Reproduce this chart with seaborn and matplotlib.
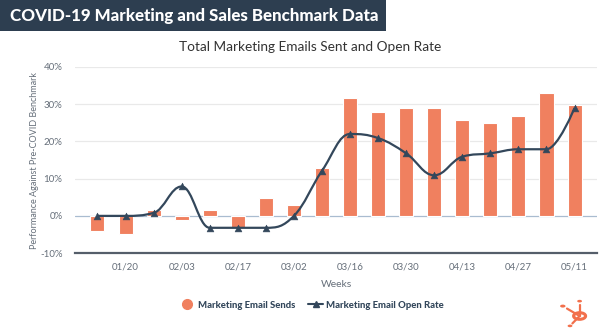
import numpy as np
import pandas as pd
import matplotlib
matplotlib.use("Agg")
import matplotlib.pyplot as plt
from matplotlib import font_manager
from matplotlib.path import Path
from matplotlib.patches import PathPatch, Rectangle, Circle
from matplotlib.lines import Line2D
import seaborn as sns

weeks = ["01/13", "01/20", "01/27", "02/03", "02/10", "02/17", "02/24", "03/02", "03/09",
         "03/16", "03/23", "03/30", "04/06", "04/13", "04/20", "04/27", "05/04", "05/11"]
email_sends = [-4.1, -5.0, 1.6, -1.2, 1.6, -3.2, 4.8, 2.8, 12.9,
               31.8, 28.0, 28.9, 28.9, 25.8, 24.9, 26.8, 32.9, 29.9]
open_rate = [0.0, 0.0, 0.8, 7.9, -3.2, -3.2, -3.2, 0.0, 12.1,
             22.0, 20.9, 16.8, 10.9, 15.9, 16.8, 17.9, 17.9, 29.0]
y_ticks = [-10, 0, 10, 20, 30, 40]

BAR = "#f0805f"
LINE = "#33475b"
GREY = "#666f7a"

sns.set_theme(style="white")
plt.rcParams["font.family"] = ["Lato", "DejaVu Sans"]

# pick a family that really has a bold face installed
def bold_family():
    prefs = ["Lato", "Open Sans", "Roboto", "Noto Sans", "Liberation Sans", "DejaVu Sans"]
    avail = {}
    for f in font_manager.fontManager.ttflist:
        w = f.weight if isinstance(f.weight, int) else font_manager.weight_dict.get(f.weight, 400)
        if w >= 600 and f.style == "normal":
            avail.setdefault(f.name, []).append(w)
    for p in prefs:
        if p in avail:
            return p, max(avail[p])
    return "DejaVu Sans", 700

BFAM, BW = bold_family()
BOLD = [BFAM, "DejaVu Sans"]

df = pd.DataFrame({"week": weeks, "sends": email_sends, "rate": open_rate})
df["pos"] = np.arange(len(df))

fig = plt.figure(figsize=(6, 3.3), dpi=100)
ax = fig.add_axes([0.125, 0.233, 0.870, 0.564])

sns.barplot(data=df, x="week", y="sends", color=BAR, saturation=1, width=0.5,
            edgecolor="white", linewidth=0.8, ax=ax, zorder=2)

# Highcharts-like spline rendering of the open-rate series
def spline_path(xs, ys, smoothing=1.5):
    n = len(xs)
    denom = smoothing + 1
    lc = [(xs[i], ys[i]) for i in range(n)]
    rc = [(xs[i], ys[i]) for i in range(n)]
    for i in range(1, n - 1):
        px, py = xs[i], ys[i]
        lx, ly = xs[i - 1], ys[i - 1]
        nx, ny = xs[i + 1], ys[i + 1]
        lcx = (smoothing * px + lx) / denom
        lcy = (smoothing * py + ly) / denom
        rcx = (smoothing * px + nx) / denom
        rcy = (smoothing * py + ny) / denom
        if rcx != lcx:
            corr = ((rcy - lcy) * (rcx - px)) / (rcx - lcx) + py - rcy
            lcy += corr
            rcy += corr
        if lcy > ly and lcy > py:
            lcy = max(ly, py); rcy = 2 * py - lcy
        elif lcy < ly and lcy < py:
            lcy = min(ly, py); rcy = 2 * py - lcy
        if rcy > ny and rcy > py:
            rcy = max(ny, py); lcy = 2 * py - rcy
        elif rcy < ny and rcy < py:
            rcy = min(ny, py); lcy = 2 * py - rcy
        lc[i] = (lcx, lcy)
        rc[i] = (rcx, rcy)
    verts = [(xs[0], ys[0])]
    codes = [Path.MOVETO]
    for i in range(1, n):
        verts += [rc[i - 1], lc[i], (xs[i], ys[i])]
        codes += [Path.CURVE4] * 3
    return Path(verts, codes)

path = spline_path(list(df["pos"].astype(float)), list(df["rate"]))
ax.add_patch(PathPatch(path, facecolor="none", edgecolor=LINE, lw=1.6, zorder=4))
sns.scatterplot(data=df, x="pos", y="rate", marker="^", s=24, color=LINE,
                edgecolor=LINE, ax=ax, zorder=5, legend=False)

ax.set_ylim(-10, 40)
ax.set_xlim(-0.8, len(weeks) - 0.2)
ax.set_yticks(y_ticks)
ax.set_yticklabels([f"{v}%" for v in y_ticks], fontsize=7, color=GREY)
ax.set_xticks(range(1, len(weeks), 2))
ax.set_xticklabels(weeks[1::2], fontsize=7, color=GREY)
ax.tick_params(axis="x", length=4, color="#ccd6eb", width=0.8, pad=3)
ax.tick_params(axis="y", length=0, pad=9)
for v in [10, 20, 30, 40]:
    ax.axhline(v, color="#e9e9e9", lw=0.9, zorder=0)
ax.axhline(0, color="#a9bcd0", lw=0.9, zorder=1)
for s in ["top", "right", "left"]:
    ax.spines[s].set_visible(False)
ax.spines["bottom"].set_color("#555e6a")
ax.spines["bottom"].set_linewidth(1.6)
ax.set_xlabel("Weeks", fontsize=7.5, color=GREY, labelpad=6)
ax.set_ylabel("Performance Against Pre-COVID Benchmark", fontsize=6.5, color=GREY, labelpad=1)

# Header
fig.patches.append(Rectangle((0, 1 - 31 / 330), 386 / 600, 31 / 330, transform=fig.transFigure,
                             facecolor="#2d3e50", edgecolor="none"))
hdr = fig.text(0.016, 1 - 15.5 / 330, "COVID-19 Marketing and Sales Benchmark Data", color="white",
               fontsize=13, fontweight=BW, family=BOLD, va="center", ha="left")
fig.text(0.517, 1 - 47 / 330, "Total Marketing Emails Sent and Open Rate", color="#333333",
         fontsize=9.8, va="center", ha="center")

# Legend
handles = [Line2D([], [], marker="o", ls="none", color=BAR, markersize=7),
           Line2D([], [], marker="^", color=LINE, lw=1.5, markersize=4)]
fig.legend(handles, ["Marketing Email Sends", "Marketing Email Open Rate"], loc="center",
           bbox_to_anchor=(0.52, 1 - 305 / 330), ncol=2, frameon=False, handlelength=1.5,
           columnspacing=1.4, handletextpad=0.4,
           prop={"size": 6.8, "weight": BW, "family": BOLD}, labelcolor="#33475b")

# fit header width to the banner
fig.canvas.draw()
w = hdr.get_window_extent().width
hdr.set_fontsize(min(13.5, 13 * 366 / w))

# Simple sprocket mark bottom right
lx, ly = 0.966, 1 - 316 / 330
fig.patches.append(Circle((lx, ly), 0.010, transform=fig.transFigure, facecolor="none",
                          edgecolor="#f2704c", lw=2.2))
for dx, dy, r in [(-0.028, 0.03, 0.0045), (0.0, 0.045, 0.004), (-0.016, -0.03, 0.004)]:
    fig.lines.append(Line2D([lx, lx + dx * 0.75], [ly, ly + dy * 0.75], transform=fig.transFigure,
                            color="#f2704c", lw=1.6))
    fig.patches.append(Circle((lx + dx, ly + dy), r, transform=fig.transFigure,
                              facecolor="#f2704c", edgecolor="none"))

fig.savefig("out.png", dpi=100, facecolor="white")
